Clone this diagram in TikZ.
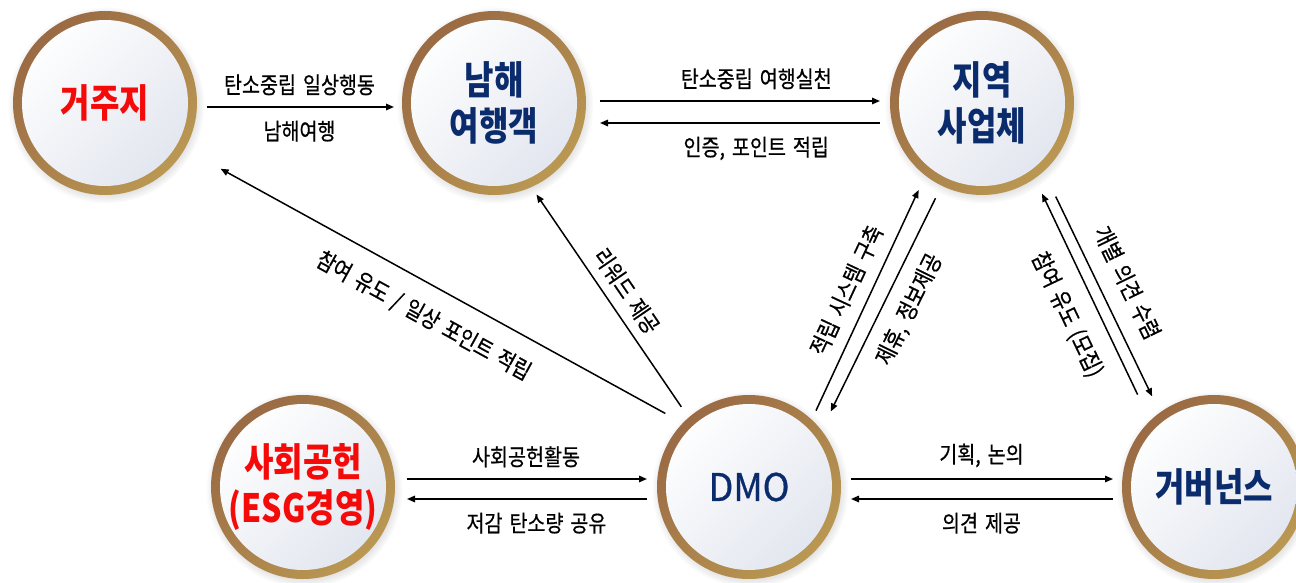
\documentclass[tikz,border=0pt]{standalone}
\usepackage{fontspec}
\setmainfont{Noto Sans CJK KR}
\newfontfamily\tagfont{Noto Sans CJK KR}[FakeStretch=0.85, FakeBold=0.6, WordSpace=1.6]
\newfontfamily\bubblefont{Noto Sans CJK KR}[FakeStretch=0.82]
\newfontfamily\latinbubble{Noto Sans CJK KR}[FakeStretch=0.95, FakeBold=0.8]
\usetikzlibrary{arrows.meta,shadows}

\definecolor{ringdark}{HTML}{9A6A44}
\definecolor{ringgold}{HTML}{BA9852}
\definecolor{innergray}{HTML}{E1E5EE}
\definecolor{homered}{HTML}{F50A0A}
\definecolor{navy}{HTML}{0B2C6C}

\tikzset{
  bubble/.style={circle, minimum size=184pt, inner sep=0pt, outer sep=0pt,
    top color=ringdark, bottom color=ringgold, shading angle=45,
    circular drop shadow={shadow xshift=1pt, shadow yshift=-2pt, shadow scale=1.07, opacity=.35},
    path picture={\shade[top color=white, middle color=white, bottom color=innergray, shading angle=45]
      (path picture bounding box.center) circle (83pt);},
    font=\bubblefont\bfseries\fontsize{39}{46}\selectfont, align=center},
  flow/.style={-{Triangle[length=8pt,width=6.5pt]}, line width=1.5pt},
  tag/.style={font=\tagfont\fontsize{23}{26}\selectfont, inner sep=2pt}
}

\begin{document}
\begin{tikzpicture}[x=1pt,y=-1pt]
  \useasboundingbox (0,0) rectangle (1296,583);

  % circles
  \node[bubble, text=homered] (home) at (105,103) {거주지};
  \node[bubble, text=navy] (tourist) at (494,103) {남해\\여행객};
  \node[bubble, text=navy] (biz) at (982,103) {지역\\사업체};
  \node[bubble, text=homered] (esg) at (303,487) {사회공헌\\(ESG경영)};
  \node[bubble, text=navy, font=\latinbubble\fontsize{38}{45}\selectfont] (dmo) at (749,487) {DMO};
  \node[bubble, text=navy] (gov) at (1214,487) {거버넌스};

  % top row
  \draw[flow, shorten <=10pt, shorten >=8pt] ([yshift=-4pt]home.east) --
    node[tag, above=9pt] {탄소중립 일상행동} node[tag, below=11pt] {남해여행} ([yshift=-4pt]tourist.west);
  \draw[flow, shorten <=14pt, shorten >=10pt] ([yshift=2pt]tourist.east) --
    node[tag, above=9pt, pos=.56] {탄소중립 여행실천} ([yshift=2pt]biz.west);
  \draw[flow, shorten <=10pt, shorten >=14pt] ([yshift=-20pt]biz.west) --
    node[tag, below=11pt, pos=.44] {인증, 포인트 적립} ([yshift=-20pt]tourist.east);

  % bottom row
  \draw[flow, shorten <=12pt, shorten >=10pt] ([yshift=8pt]esg.east) --
    node[tag, above=9pt] {사회공헌활동} ([yshift=8pt]dmo.west);
  \draw[flow, shorten <=10pt, shorten >=12pt] ([yshift=-12pt]dmo.west) --
    node[tag, below=11pt, pos=.46] {저감 탄소량 공유} ([yshift=-12pt]esg.east);
  \draw[flow, shorten <=10pt, shorten >=9pt] ([yshift=8pt]dmo.east) --
    node[tag, above=9pt] {기획, 논의} ([yshift=8pt]gov.west);
  \draw[flow, shorten <=9pt, shorten >=10pt] ([yshift=-12pt]gov.west) --
    node[tag, below=11pt] {의견 제공} ([yshift=-12pt]dmo.east);

  % diagonals
  \draw[flow, shorten <=20pt, shorten >=41pt] (dmo.136) --
    node[tag, sloped, below=17pt, pos=.49] {참여 유도 / 일상 포인트 적립} (home.-30);
  \draw[flow, shorten <=13pt, shorten >=9pt] (dmo.131) --
    node[tag, sloped, above=7pt, pos=.5] {리워드 제공} (tourist.-66);
  \draw[flow, shorten <=10pt, shorten >=16pt] (dmo.47) --
    node[tag, sloped, above=10pt, pos=.49] {적립 시스템 구축} (biz.232);
  \draw[flow, shorten <=14pt, shorten >=21pt] (biz.244) --
    node[tag, sloped, below=11pt, pos=.46] {제휴, 정보제공} (dmo.38);
  \draw[flow, shorten <=29pt, shorten >=17pt] (gov.134) --
    node[tag, sloped, below=15pt, pos=.49] {참여 유도 (모집)} (biz.-55);
  \draw[flow, shorten <=28pt, shorten >=18pt] (biz.-48) --
    node[tag, sloped, above=14pt, pos=.51] {개별 의견 수렴} (gov.126);
\end{tikzpicture}
\end{document}
